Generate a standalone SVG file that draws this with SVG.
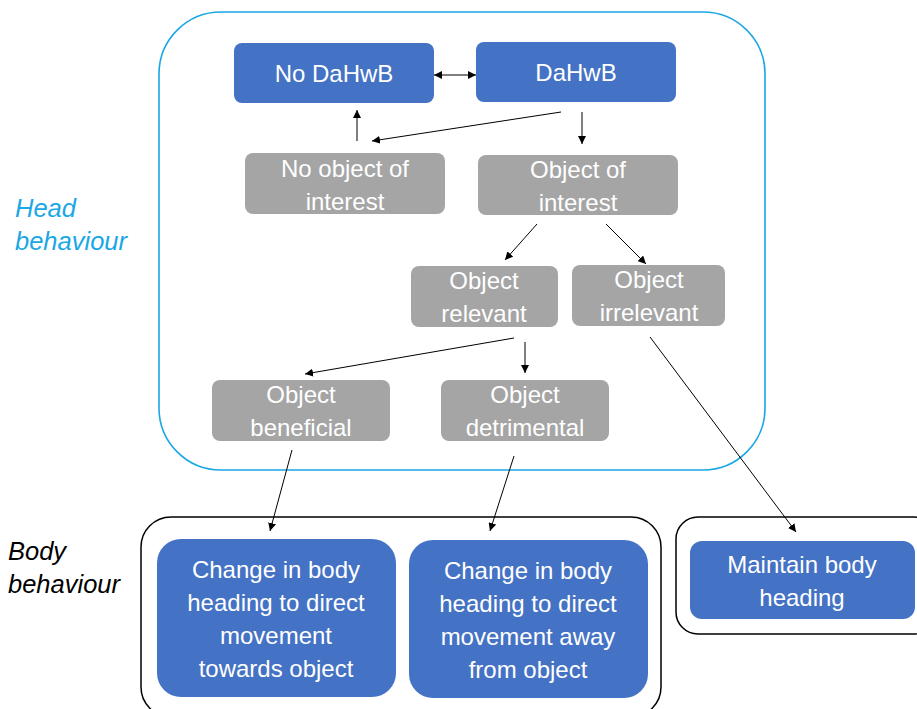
<svg xmlns="http://www.w3.org/2000/svg" width="917" height="709" viewBox="0 0 917 709">
<defs>
<marker id="ah" viewBox="0 0 10 10" refX="10" refY="5" markerWidth="8" markerHeight="8" orient="auto-start-reverse" markerUnits="userSpaceOnUse">
<path d="M0,0 L10,5 L0,10 z" fill="#000"/>
</marker>
<style>
.blue{fill:#4472C4;}
.gray{fill:#A5A5A5;}
.t{font-family:"Liberation Sans",Arial,sans-serif;font-size:24px;fill:#fff;text-anchor:middle;}
.c{fill:none;stroke:#000;stroke-width:1;marker-end:url(#ah);}
.lab{font-family:"Liberation Sans",Arial,sans-serif;font-size:25.5px;font-style:italic;}
</style>
</defs>
<rect width="917" height="709" fill="#fff"/>
<rect x="159" y="12" width="606" height="458" rx="62" fill="none" stroke="#1AA7E5" stroke-width="1.6"/>
<rect x="141" y="517" width="520" height="200" rx="30" fill="none" stroke="#000" stroke-width="1.5"/>
<rect x="676" y="517" width="260" height="117" rx="22" fill="none" stroke="#000" stroke-width="1.5"/>
<text class="lab" fill="#1AA7E5" x="15" y="217">Head</text>
<text class="lab" fill="#1AA7E5" x="15" y="250">behaviour</text>
<text class="lab" fill="#000" x="8" y="560">Body</text>
<text class="lab" fill="#000" x="8" y="593">behaviour</text>
<g id="noDaHwB"><rect class="blue" x="234" y="43" width="200" height="60" rx="8"/><text class="t" x="334" y="82">No DaHwB</text></g>
<g id="DaHwB"><rect class="blue" x="476" y="42" width="200" height="60" rx="8"/><text class="t" x="576" y="81">DaHwB</text></g>
<g id="noObj"><rect class="gray" x="245" y="153" width="200" height="61" rx="8"/><text class="t" x="345" y="177">No object of</text><text class="t" x="345" y="210">interest</text></g>
<g id="obj"><rect class="gray" x="478" y="155" width="200" height="60" rx="8"/><text class="t" x="578" y="178">Object of</text><text class="t" x="578" y="211">interest</text></g>
<g id="rel"><rect class="gray" x="411" y="266" width="147" height="61" rx="8"/><text class="t" x="484" y="289">Object</text><text class="t" x="484" y="322">relevant</text></g>
<g id="irrel"><rect class="gray" x="572" y="265" width="153" height="61" rx="8"/><text class="t" x="649" y="288">Object</text><text class="t" x="649" y="321">irrelevant</text></g>
<g id="ben"><rect class="gray" x="212" y="380" width="178" height="61" rx="8"/><text class="t" x="301" y="403">Object</text><text class="t" x="301" y="436">beneficial</text></g>
<g id="det"><rect class="gray" x="441" y="380" width="168" height="61" rx="8"/><text class="t" x="525" y="403">Object</text><text class="t" x="525" y="436">detrimental</text></g>
<g id="towards"><rect class="blue" x="157" y="539" width="239" height="158" rx="24"/><text class="t" x="276" y="578">Change in body</text><text class="t" x="276" y="611">heading to direct</text><text class="t" x="276" y="644">movement</text><text class="t" x="276" y="677">towards object</text></g>
<g id="away"><rect class="blue" x="409" y="540" width="239" height="158" rx="24"/><text class="t" x="528" y="579">Change in body</text><text class="t" x="528" y="612">heading to direct</text><text class="t" x="528" y="645">movement away</text><text class="t" x="528" y="678">from object</text></g>
<g id="maintain"><rect class="blue" x="690" y="541" width="225" height="78" rx="12"/><text class="t" x="802" y="573">Maintain body</text><text class="t" x="802" y="606">heading</text></g>
<g id="connectors">
<line class="c" x1="434" y1="75" x2="476" y2="75" marker-start="url(#ah)"/>
<line class="c" x1="357" y1="141" x2="357" y2="110"/>
<line class="c" x1="561" y1="112" x2="372" y2="141"/>
<line class="c" x1="582" y1="112" x2="582" y2="144"/>
<line class="c" x1="537" y1="224" x2="505" y2="260"/>
<line class="c" x1="606" y1="224" x2="646" y2="264"/>
<line class="c" x1="514" y1="338" x2="305" y2="374"/>
<line class="c" x1="525" y1="342" x2="525" y2="373"/>
<line class="c" x1="650" y1="337" x2="796" y2="532"/>
<line class="c" x1="292" y1="450" x2="270" y2="531"/>
<line class="c" x1="514" y1="456" x2="490" y2="531"/>
</g>
</svg>
